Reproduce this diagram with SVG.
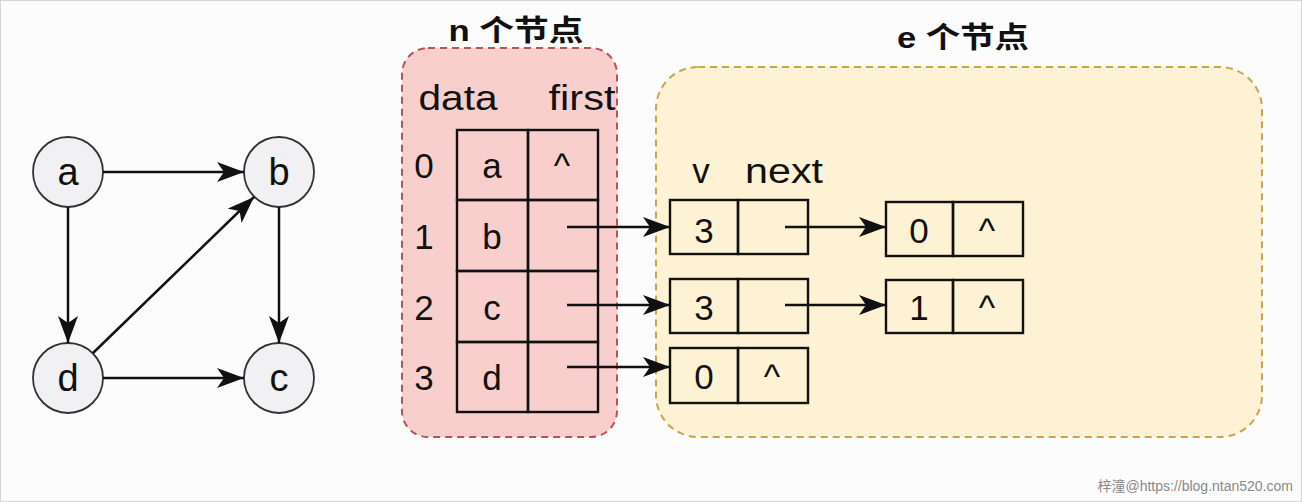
<svg xmlns="http://www.w3.org/2000/svg" width="1302" height="502" viewBox="0 0 1302 502">
<style>
.t{font-family:"Liberation Sans",Arial,sans-serif;font-size:35px;fill:#111;text-anchor:middle}
.g{font-family:"Liberation Sans",Arial,sans-serif;font-size:38px;fill:#111;text-anchor:middle}
.h{font-family:"Liberation Sans","Noto Sans CJK SC",sans-serif;font-size:29px;font-weight:bold;fill:#111;text-anchor:middle}
.node circle{fill:#f1f1f3;stroke:#333;stroke-width:1.8}
.cell{fill:none;stroke:#111;stroke-width:2.4}
.edge{stroke:#111;stroke-width:2.5;fill:none;marker-end:url(#ah)}
</style>
<defs>
<marker id="ah" markerUnits="userSpaceOnUse" markerWidth="30" markerHeight="24" refX="27" refY="10" orient="auto">
<path d="M0,0 L27,10 L0,20 L7,10 z" fill="#111"/>
</marker>
</defs>
<rect x="0" y="0" width="1302" height="502" fill="#fcfcfd"/>
<rect x="0.5" y="0.5" width="1301" height="501" fill="none" stroke="#d4d4d8"/>

<g id="graph-a" class="node"><circle cx="68" cy="172" r="35"/><text class="g" x="68" y="185">a</text></g>
<g id="graph-b" class="node"><circle cx="279" cy="172" r="35"/><text class="g" x="279" y="185">b</text></g>
<g id="graph-d" class="node"><circle cx="68" cy="378" r="35"/><text class="g" x="68" y="391">d</text></g>
<g id="graph-c" class="node"><circle cx="279" cy="378" r="35"/><text class="g" x="279" y="391">c</text></g>

<g id="vertex-container">
<rect x="402" y="48" width="215" height="389" rx="26" fill="#f8cfcd" stroke="#b5545c" stroke-width="2" stroke-dasharray="7,5"/>
<text class="h" x="516" y="41" textLength="135" lengthAdjust="spacingAndGlyphs">n 个节点</text>
<text class="t" x="458" y="110" textLength="79" lengthAdjust="spacingAndGlyphs">data</text>
<text class="t" x="582" y="110" textLength="67" lengthAdjust="spacingAndGlyphs">first</text>
</g>
<g id="edge-container">
<rect x="656" y="67" width="606" height="370" rx="42" fill="#fdf2d3" stroke="#c9a64e" stroke-width="2" stroke-dasharray="7,5"/>
<text class="h" x="963" y="48" textLength="132" lengthAdjust="spacingAndGlyphs">e 个节点</text>
<text class="t" x="701" y="183">v</text>
<text class="t" x="784" y="183" textLength="78" lengthAdjust="spacingAndGlyphs">next</text>
</g>

<g id="vertex-0"><rect class="cell" x="457" y="130" width="71" height="70"/><rect class="cell" x="528" y="130" width="70" height="70"/><text class="t" x="424" y="178">0</text><text class="t" x="492" y="178">a</text><text class="t" x="562" y="178">^</text></g>
<g id="vertex-1"><rect class="cell" x="457" y="200" width="71" height="71"/><rect class="cell" x="528" y="200" width="70" height="71"/><text class="t" x="424" y="249">1</text><text class="t" x="492" y="249">b</text></g>
<g id="vertex-2"><rect class="cell" x="457" y="271" width="71" height="71"/><rect class="cell" x="528" y="271" width="70" height="71"/><text class="t" x="424" y="320">2</text><text class="t" x="492" y="320">c</text></g>
<g id="vertex-3"><rect class="cell" x="457" y="342" width="71" height="70"/><rect class="cell" x="528" y="342" width="70" height="70"/><text class="t" x="424" y="390">3</text><text class="t" x="492" y="390">d</text></g>

<g id="enode-1a"><rect class="cell" x="670" y="200" width="68" height="54"/><rect class="cell" x="738" y="200" width="70" height="54"/><text class="t" x="704" y="243">3</text></g>
<g id="enode-1b"><rect class="cell" x="886" y="202" width="67" height="54"/><rect class="cell" x="953" y="202" width="70" height="54"/><text class="t" x="919" y="243">0</text><text class="t" x="987" y="243">^</text></g>
<g id="enode-2a"><rect class="cell" x="670" y="279" width="68" height="54"/><rect class="cell" x="738" y="279" width="70" height="54"/><text class="t" x="704" y="320">3</text></g>
<g id="enode-2b"><rect class="cell" x="886" y="280" width="67" height="53"/><rect class="cell" x="953" y="280" width="70" height="53"/><text class="t" x="919" y="320">1</text><text class="t" x="987" y="320">^</text></g>
<g id="enode-3a"><rect class="cell" x="670" y="348" width="68" height="55"/><rect class="cell" x="738" y="348" width="70" height="55"/><text class="t" x="704" y="389">0</text><text class="t" x="772" y="389">^</text></g>

<g id="connectors">
<line class="edge" x1="103" y1="172" x2="244" y2="172"/>
<line class="edge" x1="68" y1="207" x2="68" y2="343"/>
<line class="edge" x1="279" y1="207" x2="279" y2="343"/>
<line class="edge" x1="103" y1="378" x2="244" y2="378"/>
<line class="edge" x1="93" y1="353" x2="254" y2="197"/>
<line class="edge" x1="567" y1="227" x2="670" y2="227"/>
<line class="edge" x1="567" y1="305" x2="670" y2="305"/>
<line class="edge" x1="567" y1="367" x2="670" y2="367"/>
<line class="edge" x1="785" y1="227" x2="886" y2="227"/>
<line class="edge" x1="785" y1="305" x2="886" y2="305"/>
</g>

<text x="1293" y="491" font-family="Liberation Sans,'Noto Sans CJK SC',sans-serif" font-size="14" fill="#8a8a8a" text-anchor="end">梓潼@https://blog.ntan520.com</text>
</svg>
